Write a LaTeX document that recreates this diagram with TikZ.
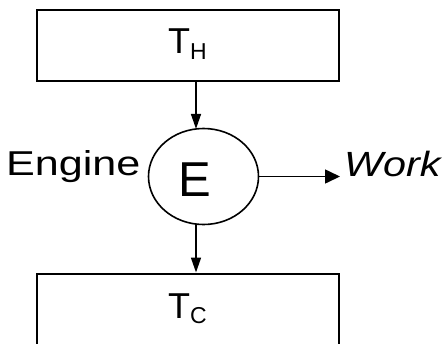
\documentclass[tikz,border=0pt]{standalone}
\usepackage{fontspec}
\setmainfont{Liberation Sans}
\usetikzlibrary{arrows.meta,shapes.geometric}
\begin{document}
\begin{tikzpicture}[x=1pt,y=-1pt,
  resbox/.style={draw,line width=2pt,minimum width=302pt,minimum height=71pt,inner sep=0pt},
  engshape/.style={draw,ellipse,line width=1.6pt,minimum width=110pt,minimum height=96pt,inner sep=0pt},
  txt/.style={inner sep=0pt,anchor=base},
  flowdown/.style={line width=1.6pt,-{Triangle[length=15pt,width=10pt]}},
  flowright/.style={line width=1.6pt,-{Triangle[length=15pt,width=14pt]}}]
\useasboundingbox (0,0) rectangle (446,343);
\clip (0,0) rectangle (446,343);
\node[resbox] (th) at (188,45) {};
\node[resbox] (tc) at (188,309) {};
\node[engshape] (eng) at (203.5,176.5) {};
\coordinate (ax) at (196,0);
\node[txt] (thl) at (187.5,53.3) {\fontsize{36}{36}\selectfont T\raisebox{-6pt}{\fontsize{23}{23}\selectfont H}};
\node[txt] (tcl) at (187.5,318.3) {\fontsize{36}{36}\selectfont T\raisebox{-5pt}{\fontsize{23}{23}\selectfont C}};
\node[txt] (el) at (195,196.7) {\fontsize{49}{49}\selectfont E};
\node[txt,anchor=base west] (engl) at (6,175) {\scalebox{1.25}[1]{\fontsize{34.5}{34.5}\selectfont Engine}};
\node[txt,anchor=base west] (work) at (344,176.5) {\scalebox{1.18}[1]{\fontsize{35}{35}\selectfont\itshape Work}};
\draw[flowdown] (ax |- th.south) -- (196,128.9);
\draw[flowdown] (196,224.1) -- (ax |- tc.north);
\draw[flowright] (eng.east) -- ([xshift=-4pt]work.west |- eng.east);
\end{tikzpicture}
\end{document}
